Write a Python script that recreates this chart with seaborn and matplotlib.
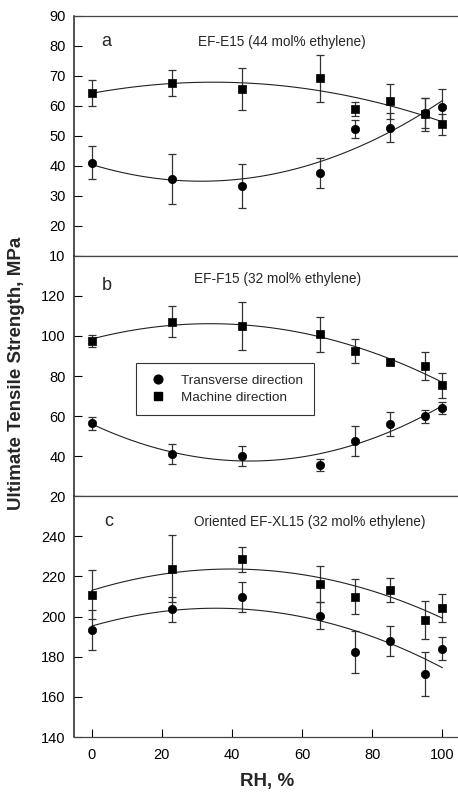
import numpy as np
import pandas as pd
import seaborn as sns
import matplotlib.pyplot as plt
from matplotlib.lines import Line2D

# relative humidity, %
rh = [0, 23, 43, 65, 75, 85, 95, 100]

# (a) EF-E15 (44 mol% ethylene)
a_td = [41.1, 35.6, 33.4, 37.6, 52.3, 52.8, 57.5, 59.6]
a_td_err = [5.6, 8.3, 7.3, 5.0, 3.1, 4.7, 5.0, 6.0]
a_md = [64.4, 67.7, 65.8, 69.2, 59.0, 61.6, 57.2, 53.9]
a_md_err = [4.3, 4.4, 7.0, 7.8, 2.4, 5.8, 5.5, 3.5]

# (b) EF-F15 (32 mol% ethylene)
b_td = [56.3, 41.0, 40.0, 35.7, 47.5, 56.0, 59.8, 63.8]
b_td_err = [3.2, 4.9, 5.2, 3.0, 7.3, 6.2, 3.4, 3.0]
b_md = [97.6, 107.2, 105.0, 100.9, 92.4, 86.9, 84.9, 75.3]
b_md_err = [3.0, 7.6, 12.2, 8.7, 6.0, 1.5, 7.0, 6.2]

# (c) Oriented EF-XL15 (32 mol% ethylene)
c_td = [193.3, 203.5, 209.8, 200.5, 182.4, 188.0, 171.5, 183.9]
c_td_err = [9.9, 6.0, 7.4, 6.8, 10.3, 7.5, 11.0, 5.8]
c_md = [210.9, 223.7, 228.5, 216.1, 209.8, 213.3, 198.3, 204.4]
c_md_err = [12.2, 16.7, 6.2, 9.0, 8.7, 6.0, 9.3, 7.0]

panels = [
    dict(letter="a", title="EF-E15 (44 mol% ethylene)", td=a_td, td_err=a_td_err, md=a_md, md_err=a_md_err,
         ylim=(10, 90), yticks=range(10, 91, 10), bottom=0.6772, height=0.3027,
         lpos=(0.083, 0.893), tpos=(0.538, 0.893)),
    dict(letter="b", title="EF-F15 (32 mol% ethylene)", td=b_td, td_err=b_td_err, md=b_md, md_err=b_md_err,
         ylim=(20, 140), yticks=range(20, 121, 20), bottom=0.3745, height=0.3027,
         lpos=(0.086, 0.878), tpos=(0.527, 0.905)),
    dict(letter="c", title="Oriented EF-XL15 (32 mol% ethylene)", td=c_td, td_err=c_td_err, md=c_md, md_err=c_md_err,
         ylim=(140, 260), yticks=range(140, 241, 20), bottom=0.0706, height=0.3039,
         lpos=(0.089, 0.896), tpos=(0.61, 0.891)),
]

sns.set_style("ticks")
plt.rcParams['font.family'] = ['Liberation Sans', 'DejaVu Sans']

fig = plt.figure(figsize=(4.58, 7.93), dpi=100)

for i, p in enumerate(panels):
    ax = fig.add_axes([0.1616, p["bottom"], 0.8428, p["height"]])
    for y, err, mk, sz in [(p["td"], p["td_err"], "o", 36), (p["md"], p["md_err"], "s", 30)]:
        ax.errorbar(rh, y, yerr=err, fmt="none", ecolor="#333333", elinewidth=0.9,
                    capsize=3.2, capthick=0.9, zorder=2)
        # quadratic fit through the points
        sns.regplot(x=rh, y=y, order=2, ci=None, scatter=False, truncate=True, ax=ax,
                    line_kws=dict(color="#222222", lw=0.8, zorder=2))
        sns.scatterplot(x=rh, y=y, marker=mk, s=sz, color="black", edgecolor="black",
                        linewidth=0.5, ax=ax, zorder=3)

    ax.set_xlim(-5, 105)
    ax.set_ylim(*p["ylim"])
    ax.set_yticks(list(p["yticks"]))
    ax.set_xlabel("")
    ax.set_ylabel("")
    ax.tick_params(direction="in", length=5.5, width=0.8, labelsize=10.5, colors="black")
    ax.tick_params(axis="y", pad=6)
    if i < 2:
        ax.tick_params(axis="x", bottom=False, labelbottom=False)
    else:
        ax.set_xticks([0, 20, 40, 60, 80, 100])
        ax.tick_params(axis="x", pad=8)
        ax.set_xlabel("RH, %", fontsize=13.5, fontweight="bold", labelpad=8)
    ax.spines["right"].set_visible(False)
    for s in ["top", "bottom"]:
        ax.spines[s].set_color("#444444")
        ax.spines[s].set_linewidth(0.9)
    ax.spines["left"].set_color("#222222")
    ax.spines["left"].set_linewidth(1.1)

    ax.text(*p["lpos"], p["letter"], transform=ax.transAxes, fontsize=13,
            ha="center", va="center")
    ax.text(*p["tpos"], p["title"], transform=ax.transAxes, fontsize=9.8,
            ha="center", va="center")

    if p["letter"] == "b":
        handles = [Line2D([], [], marker="o", ls="none", color="black", markersize=6.3),
                   Line2D([], [], marker="s", ls="none", color="black", markersize=5.6)]
        leg = ax.legend(handles, ["Transverse direction", "Machine direction"],
                        loc="upper left", bbox_to_anchor=(0.16, 0.555), fontsize=9.7,
                        frameon=True, fancybox=False, edgecolor="black",
                        handlelength=1.6, handletextpad=0.9, borderpad=0.85,
                        labelspacing=0.35, borderaxespad=0)
        leg.get_frame().set_linewidth(0.8)

fig.text(17 / 458, 0.5296, "Ultimate Tensile Strength, MPa", rotation=90,
         fontsize=13.5, fontweight="bold", ha="center", va="center")

plt.savefig("out.png", dpi=100)
